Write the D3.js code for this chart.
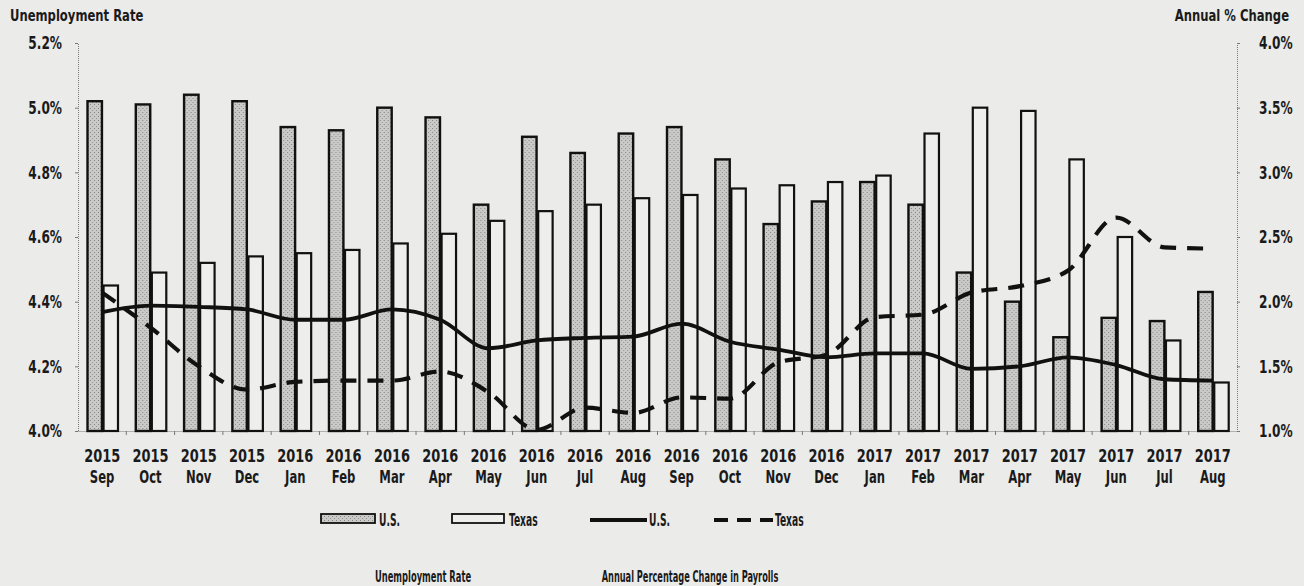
<!DOCTYPE html>
<html>
<head>
<meta charset="utf-8">
<script src="https://cdn.jsdelivr.net/npm/d3@7"></script>
<style>
  html, body { margin: 0; padding: 0; background: #ebebe9; }
  svg { display: block; }
  text { font-family: "Liberation Sans Narrow", "DejaVu Sans Condensed", sans-serif; font-weight: bold; fill: #1a1a1a; }
</style>
</head>
<body>
<div id="chart"></div>
<script>
const years = ['2015','2015','2015','2015','2016','2016','2016','2016','2016','2016','2016','2016',
  '2016','2016','2016','2016','2017','2017','2017','2017','2017','2017','2017','2017'];
const months = ['Sep','Oct','Nov','Dec','Jan','Feb','Mar','Apr','May','Jun','Jul','Aug',
  'Sep','Oct','Nov','Dec','Jan','Feb','Mar','Apr','May','Jun','Jul','Aug'];
const categories = years.map((y, i) => y + ' ' + months[i]);

// unemployment rate (left axis, bars)
const usRate = [5.02, 5.01, 5.04, 5.02, 4.94, 4.93, 5.00, 4.97, 4.70, 4.91, 4.86, 4.92,
  4.94, 4.84, 4.64, 4.71, 4.77, 4.70, 4.49, 4.40, 4.29, 4.35, 4.34, 4.43];
const txRate = [4.45, 4.49, 4.52, 4.54, 4.55, 4.56, 4.58, 4.61, 4.65, 4.68, 4.70, 4.72,
  4.73, 4.75, 4.76, 4.77, 4.79, 4.92, 5.00, 4.99, 4.84, 4.60, 4.28, 4.15];

// annual % change in payrolls (right axis, lines)
const usPayroll = [1.92, 1.97, 1.96, 1.94, 1.86, 1.86, 1.94, 1.86, 1.64, 1.70, 1.72, 1.73,
  1.83, 1.69, 1.63, 1.57, 1.60, 1.60, 1.48, 1.50, 1.57, 1.51, 1.40, 1.39];
const txPayroll = [2.07, 1.80, 1.50, 1.32, 1.38, 1.39, 1.39, 1.46, 1.30, 1.01, 1.18, 1.14,
  1.26, 1.25, 1.53, 1.59, 1.88, 1.90, 2.07, 2.12, 2.24, 2.65, 2.42, 2.41];

const leftTicks = [4.0, 4.2, 4.4, 4.6, 4.8, 5.0, 5.2];
const rightTicks = [1.0, 1.5, 2.0, 2.5, 3.0, 3.5, 4.0];

const width = 1304, height = 586;
const plotLeft = 78, plotRight = 1237, plotTop = 43, plotBottom = 431;

const svg = d3.select('#chart').append('svg')
  .attr('width', width)
  .attr('height', height);

// the original type is a very condensed face, so squeeze text horizontally
function squeeze(sel, sx) {
  sel.each(function () {
    const t = d3.select(this);
    const x0 = +t.attr('x') || 0;
    t.attr('x', 0).attr('transform', `translate(${x0},0) scale(${sx},1)`);
  });
}

// dotted fill for the U.S. bars
const defs = svg.append('defs');
const pat = defs.append('pattern')
  .attr('id', 'dots')
  .attr('width', 4).attr('height', 4)
  .attr('patternUnits', 'userSpaceOnUse');
pat.append('rect').attr('width', 4).attr('height', 4).attr('fill', '#cacac8');
pat.append('rect').attr('x', 0).attr('y', 0).attr('width', 1).attr('height', 1).attr('fill', '#858583');
pat.append('rect').attr('x', 2).attr('y', 2).attr('width', 1).attr('height', 1).attr('fill', '#959593');

const x = d3.scaleBand()
  .domain(categories)
  .range([plotLeft, plotRight]);
const x1 = d3.scaleBand()
  .domain(['us', 'tx'])
  .range([9.5, 40])
  .paddingInner(0.1);
const yL = d3.scaleLinear().domain([4.0, 5.2]).range([plotBottom, plotTop]);
const yR = d3.scaleLinear().domain([1.0, 4.0]).range([plotBottom, plotTop]);

// axes
const axisL = svg.append('g')
  .attr('transform', `translate(${plotLeft},0)`)
  .call(d3.axisLeft(yL).tickValues(leftTicks).tickSize(3).tickPadding(13).tickFormat(d => d.toFixed(1) + '%'));
const axisR = svg.append('g')
  .attr('transform', `translate(${plotRight},0)`)
  .call(d3.axisRight(yR).tickValues(rightTicks).tickSize(3).tickPadding(19).tickFormat(d => d.toFixed(1) + '%'));
const axisB = svg.append('g')
  .attr('transform', `translate(0,${plotBottom})`)
  .call(d3.axisBottom(x).tickSize(0).tickFormat(''));

[axisL, axisR, axisB].forEach(a => {
  a.select('.domain').attr('stroke', '#777').attr('stroke-width', 1).attr('stroke-dasharray', '1,1');
  a.selectAll('.tick line').attr('stroke', '#777');
  a.selectAll('.tick text').attr('font-size', 18).attr('fill', '#1a1a1a');
});
squeeze(axisL.selectAll('.tick text'), 0.75);
squeeze(axisR.selectAll('.tick text'), 0.75);

// small ticks between months
axisB.selectAll('.minor')
  .data(categories.slice(1))
  .enter().append('line')
  .attr('x1', d => x(d)).attr('x2', d => x(d))
  .attr('y1', 0).attr('y2', 4)
  .attr('stroke', '#777');

// month labels
const lab = svg.append('g');
lab.selectAll('.yr')
  .data(categories)
  .enter().append('text')
  .attr('x', d => x(d) + x.bandwidth() / 2)
  .attr('y', 462)
  .attr('text-anchor', 'middle')
  .attr('font-size', 18)
  .text((d, i) => years[i])
  .call(squeeze, 0.8);
lab.selectAll('.mo')
  .data(categories)
  .enter().append('text')
  .attr('x', d => x(d) + x.bandwidth() / 2)
  .attr('y', 483)
  .attr('text-anchor', 'middle')
  .attr('font-size', 17)
  .text((d, i) => months[i])
  .call(squeeze, 0.76);

// bars
const groups = svg.append('g').selectAll('g')
  .data(categories)
  .enter().append('g')
  .attr('transform', d => `translate(${x(d)},0)`);

groups.append('rect')
  .attr('x', x1('us'))
  .attr('y', (d, i) => yL(usRate[i]))
  .attr('width', x1.bandwidth())
  .attr('height', (d, i) => plotBottom - yL(usRate[i]))
  .attr('fill', 'url(#dots)')
  .attr('stroke', '#111')
  .attr('stroke-width', 2.4);

groups.append('rect')
  .attr('x', x1('tx'))
  .attr('y', (d, i) => yL(txRate[i]))
  .attr('width', x1.bandwidth())
  .attr('height', (d, i) => plotBottom - yL(txRate[i]))
  .attr('fill', '#eeeeec')
  .attr('stroke', '#111')
  .attr('stroke-width', 2.2);

// payroll lines
const line = d3.line()
  .x((d, i) => x(categories[i]) + x.bandwidth() / 2)
  .y(d => yR(d))
  .curve(d3.curveMonotoneX);

svg.append('path')
  .datum(usPayroll)
  .attr('d', line)
  .attr('fill', 'none')
  .attr('stroke', '#111')
  .attr('stroke-width', 3.8);

svg.append('path')
  .datum(txPayroll)
  .attr('d', line)
  .attr('fill', 'none')
  .attr('stroke', '#111')
  .attr('stroke-width', 4.2)
  .attr('stroke-dasharray', '16,11');

// axis titles
svg.append('text').attr('x', 10).attr('y', 21).attr('font-size', 15).text('Unemployment Rate').call(squeeze, 0.86);
svg.append('text').attr('x', 1289).attr('y', 21).attr('font-size', 15).attr('text-anchor', 'end').text('Annual % Change').call(squeeze, 0.86);

// legend
const leg = svg.append('g');
leg.append('rect').attr('x', 321).attr('y', 514).attr('width', 54).attr('height', 9)
  .attr('fill', 'url(#dots)').attr('stroke', '#111').attr('stroke-width', 1.8);
leg.append('rect').attr('x', 452).attr('y', 514).attr('width', 52).attr('height', 9)
  .attr('fill', '#eeeeec').attr('stroke', '#111').attr('stroke-width', 1.8);
leg.append('line').attr('x1', 590).attr('x2', 647).attr('y1', 520).attr('y2', 520)
  .attr('stroke', '#111').attr('stroke-width', 3.8);
leg.append('line').attr('x1', 714).attr('x2', 773).attr('y1', 520).attr('y2', 520)
  .attr('stroke', '#111').attr('stroke-width', 4.2).attr('stroke-dasharray', '14,9');
const legLabels = [
  { x: 379, t: 'U.S.' },
  { x: 509, t: 'Texas' },
  { x: 649, t: 'U.S.' },
  { x: 775, t: 'Texas' }
];
leg.selectAll('text')
  .data(legLabels)
  .enter().append('text')
  .attr('x', d => d.x)
  .attr('y', 526)
  .attr('font-size', 17)
  .text(d => d.t)
  .call(squeeze, 0.6);

svg.append('text').attr('x', 423).attr('y', 582).attr('font-size', 15).attr('text-anchor', 'middle')
  .text('Unemployment Rate').call(squeeze, 0.62);
svg.append('text').attr('x', 690).attr('y', 582).attr('font-size', 15).attr('text-anchor', 'middle')
  .text('Annual Percentage Change in Payrolls').call(squeeze, 0.61);
</script>
</body>
</html>
